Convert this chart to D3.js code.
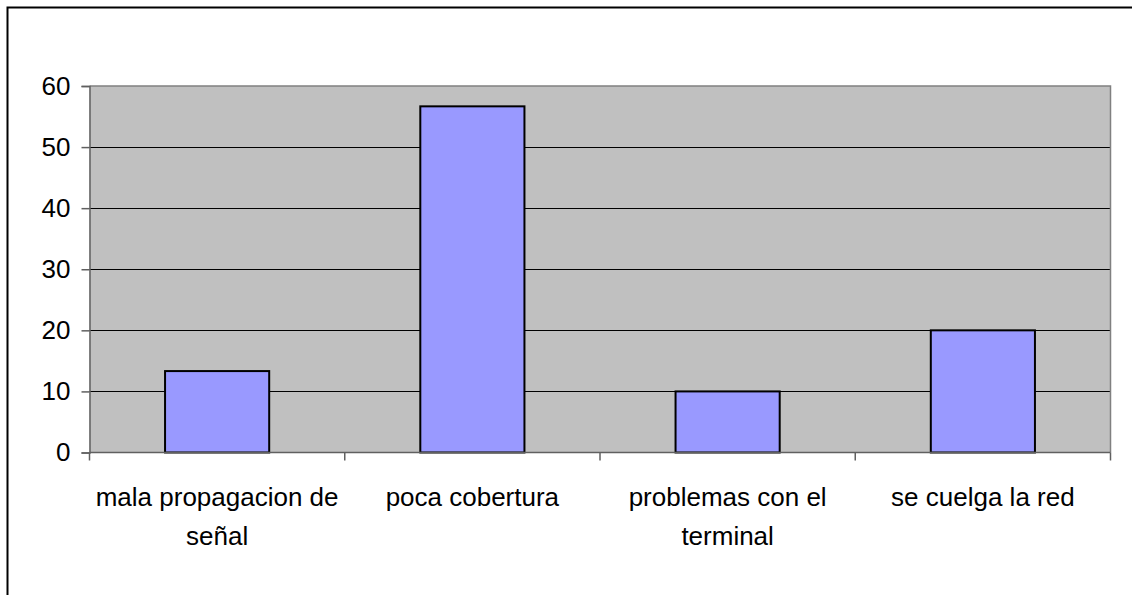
<!DOCTYPE html>
<html>
<head>
<meta charset="utf-8">
<script src="https://cdn.jsdelivr.net/npm/d3@7"></script>
<style>
  html, body { margin: 0; padding: 0; background: #fff; }
  svg { display: block; }
  text { font-family: "Liberation Sans", Arial, sans-serif; fill: #000; }
</style>
</head>
<body>
<svg id="chart" width="1132" height="595"></svg>
<script>
// ---- data ----
const categories = ["mala propagacion de señal", "poca cobertura", "problemas con el terminal", "se cuelga la red"];
const values = [13.33, 56.67, 10, 20];
const yTicks = [0, 10, 20, 30, 40, 50, 60];

// ---- layout ----
const W = 1132, H = 595;
const plot = { left: 89.5, right: 1110.5, top: 86, bottom: 452.5 };
const FS = 26;

const svg = d3.select("#chart");

// outer frame (extends past the image right/bottom)
svg.append("rect")
  .attr("x", 7.5).attr("y", 7.5)
  .attr("width", W + 20).attr("height", H + 20)
  .attr("fill", "#fff").attr("stroke", "#000").attr("stroke-width", 2);

const x = d3.scaleBand().domain(categories).range([plot.left, plot.right]).padding(0);
const y = d3.scaleLinear().domain([0, 60]).range([plot.bottom, plot.top]);

// plot area background
svg.append("rect")
  .attr("x", plot.left).attr("y", plot.top)
  .attr("width", plot.right - plot.left).attr("height", plot.bottom - plot.top)
  .attr("fill", "#C0C0C0");

// gridlines
svg.append("g").selectAll("line")
  .data(yTicks.filter(t => t > 0 && t < 60))
  .join("line")
  .attr("x1", plot.left).attr("x2", plot.right)
  .attr("y1", d => Math.round(y(d)) + 0.5).attr("y2", d => Math.round(y(d)) + 0.5)
  .attr("stroke", "#000").attr("stroke-width", 1);

// plot border top & right
svg.append("path")
  .attr("d", `M${plot.left},${plot.top} H${plot.right} V${plot.bottom}`)
  .attr("fill", "none").attr("stroke", "#808080").attr("stroke-width", 1.5);

// bars
const barFrac = 0.408;
svg.append("g").selectAll("rect")
  .data(categories.map((c, i) => ({ c, v: values[i] })))
  .join("rect")
  .attr("x", d => x(d.c) + x.bandwidth() * (1 - barFrac) / 2)
  .attr("width", x.bandwidth() * barFrac)
  .attr("y", d => y(d.v))
  .attr("height", d => y(0) - y(d.v))
  .attr("fill", "#9999FF")
  .attr("stroke", "#000").attr("stroke-width", 2);

// y axis
const yAxis = d3.axisLeft(y).tickValues(yTicks).tickSize(8).tickPadding(11);
const gy = svg.append("g").attr("transform", `translate(${plot.left},0)`).call(yAxis);
gy.select(".domain").attr("stroke", "#606060").attr("stroke-width", 1.5);
gy.selectAll(".tick line").attr("stroke", "#606060").attr("stroke-width", 1.5);
gy.selectAll(".tick text")
  .attr("font-size", FS).attr("fill", "#000")
  .style("font-family", '"Liberation Sans", Arial, sans-serif');

// x axis (ticks at category boundaries)
const boundaries = categories.map(c => x(c)).concat([plot.right]);
const gx = svg.append("g");
gx.append("line")
  .attr("x1", plot.left).attr("x2", plot.right)
  .attr("y1", plot.bottom).attr("y2", plot.bottom)
  .attr("stroke", "#606060").attr("stroke-width", 1.5);
gx.selectAll("line.tk").data(boundaries).join("line").attr("class", "tk")
  .attr("x1", d => d).attr("x2", d => d)
  .attr("y1", plot.bottom).attr("y2", plot.bottom + 8)
  .attr("stroke", "#606060").attr("stroke-width", 1.5);

// category labels with wrapping
const maxW = 255, lineH = 39, baseY = 506;
const labels = gx.selectAll("text.cat").data(categories).join("text").attr("class", "cat")
  .attr("x", d => x(d) + x.bandwidth() / 2)
  .attr("y", baseY)
  .attr("text-anchor", "middle")
  .attr("font-size", FS);

labels.each(function(d) {
  const t = d3.select(this);
  const words = d.split(" ");
  const cx = +t.attr("x");
  let line = [], lineNo = 0;
  let tspan = t.append("tspan").attr("x", cx).attr("y", baseY);
  for (const w of words) {
    line.push(w);
    tspan.text(line.join(" "));
    if (tspan.node().getComputedTextLength() > maxW && line.length > 1) {
      line.pop();
      tspan.text(line.join(" "));
      line = [w];
      lineNo++;
      tspan = t.append("tspan").attr("x", cx).attr("y", baseY + lineNo * lineH).text(w);
    }
  }
});
</script>
</body>
</html>
